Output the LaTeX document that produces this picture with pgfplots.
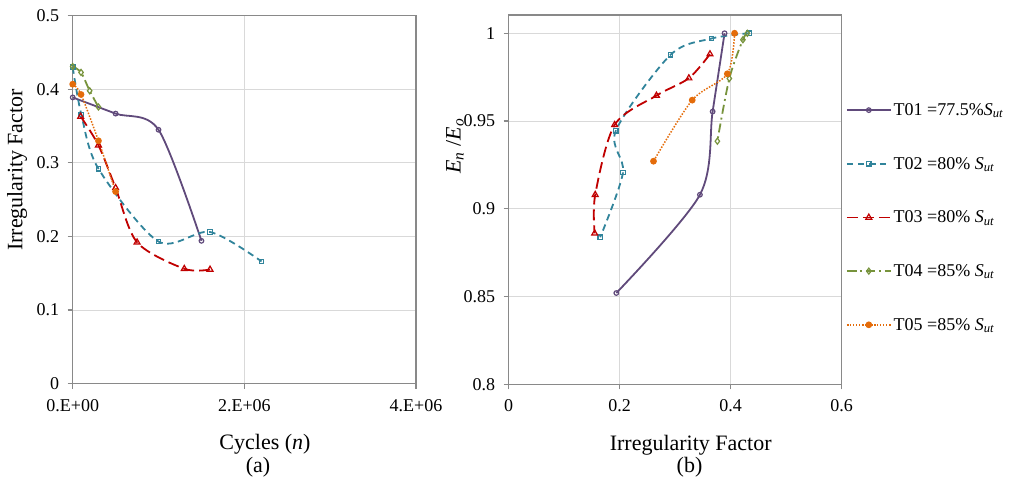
\documentclass[border=0pt]{standalone}
\usepackage{fontspec}
\setmainfont{Liberation Serif}
\usepackage{pgfplots}
\pgfplotsset{compat=1.18}
\definecolor{cA}{RGB}{96,74,123}
\definecolor{cB}{RGB}{49,132,155}
\definecolor{cC}{RGB}{192,0,0}
\definecolor{cD}{RGB}{119,147,60}
\definecolor{cE}{RGB}{228,108,10}
\definecolor{axgray}{RGB}{137,137,137}
\definecolor{gridgray}{RGB}{217,217,217}
\newcommand\tfont{\fontsize{18}{20}\selectfont}
\newcommand\lfont{\fontsize{22}{24}\selectfont}
\newcommand\Sut{\textit{S}\textsubscript{\textit{ut}}}
\begin{document}
\begin{tikzpicture}
\pgfplotsset{
  common/.style={
    scale only axis, clip=false,
    axis line style={draw=axgray, line width=1.3pt},
    tick pos=left, tick align=outside, major tick length=5pt,
    tick style={draw=axgray, line width=1.2pt},
    grid=major, major grid style={draw=gridgray, line width=0.8pt},
    ticklabel style={font=\tfont},
    xticklabel style={yshift=-7pt},
    yticklabel style={xshift=-5pt},
    scaled ticks=false,
  },
  s1/.style={cA, line width=1.8pt, smooth, mark=o, mark size=2.3pt, mark options={solid, fill=white, line width=1.2pt}},
  s2/.style={cB, line width=1.8pt, smooth, dash pattern=on 6.5pt off 4.5pt, mark=square, mark size=2.2pt, mark options={solid, fill=white, line width=1.2pt}},
  s3/.style={cC, line width=1.8pt, smooth, dash pattern=on 11pt off 5pt, mark=triangle, mark size=3.4pt, mark options={solid, fill=white, line width=1.2pt}},
  s4/.style={cD, line width=1.8pt, smooth, dash pattern=on 9pt off 4pt on 2pt off 4pt, mark=diamond, mark size=3pt, mark options={solid, fill=white, line width=1.2pt}},
  s5/.style={cE, line width=1.5pt, smooth, dash pattern=on 1.5pt off 1.5pt, mark=*, mark size=2.6pt, mark options={solid, fill=cE}},
}
\path[use as bounding box] (0pt,0pt) rectangle (1024pt,479pt);
% ---------------- (a)
\begin{axis}[common,
  at={(72.7pt,95.5pt)}, anchor=south west,
  width=343.3pt, height=367.7pt,
  xmin=0, xmax=4000000, ymin=0, ymax=0.5,
  xtick={0,2000000,4000000}, xticklabels={0.E+00,2.E+06,4.E+06},
  ytick={0,0.1,0.2,0.3,0.4,0.5}, yticklabels={0,0.1,0.2,0.3,0.4,0.5},
]
\addplot[s1] coordinates {(0,0.389) (500000,0.367) (1000000,0.345) (1500000,0.194)};
\addplot[s2] coordinates {(0,0.430) (100000,0.366) (300000,0.292) (1000000,0.193) (1600000,0.206) (2200000,0.166)};
\addplot[s3] coordinates {(93000,0.363) (300000,0.324) (500000,0.266) (750000,0.192) (1300000,0.156) (1600000,0.155)};
\addplot[s4] coordinates {(0,0.431) (97000,0.423) (198000,0.398) (300000,0.376)};
\addplot[s5] coordinates {(0,0.407) (97000,0.393) (300000,0.330) (500000,0.261)};
\end{axis}
% ---------------- (b)
\begin{axis}[common,
  at={(508.6pt,94.7pt)}, anchor=south west,
  width=333.1pt, height=369.3pt,
  xmin=0, xmax=0.6, ymin=0.8, ymax=1.0104,
  xtick={0,0.2,0.4,0.6}, xticklabels={0,0.2,0.4,0.6},
  ytick={0.8,0.85,0.9,0.95,1}, yticklabels={0.8,0.85,0.9,0.95,1},
  legend style={at={(axis description cs:1,0.772)}, anchor=north west, xshift=1pt,
    draw=none, fill=none, font=\tfont, row sep=36.2pt, legend cell align=left,
    /tikz/every even column/.append style={column sep=6pt}},
  legend image code/.code={\draw[mark repeat=2,mark phase=2] plot coordinates {(0pt,0pt)(22pt,0pt)(44pt,0pt)};},
]
\addplot[s1] coordinates {(0.389,1.0) (0.3675,0.9554) (0.3446,0.908) (0.194,0.852)};
\addlegendentry{T01 =77.5\%\Sut}
\addplot[s2] coordinates {(0.433,1.0) (0.3657,0.997) (0.2916,0.9877) (0.193,0.9444) (0.206,0.9206) (0.165,0.8838)};
\addlegendentry{T02 =80\% \Sut}
\addplot[s3] coordinates {(0.3627,0.9881) (0.3247,0.9744) (0.2663,0.9645) (0.191,0.9478) (0.156,0.908) (0.155,0.886)};
\addlegendentry{T03 =80\% \Sut}
\addplot[s4] coordinates {(0.430,1.0) (0.422,0.9963) (0.3976,0.9742) (0.376,0.9385)};
\addlegendentry{T04 =85\% \Sut}
\addplot[s5] coordinates {(0.407,1.0) (0.394,0.9769) (0.3307,0.9619) (0.261,0.9271)};
\addlegendentry{T05 =85\% \Sut}
\end{axis}
% labels
\node[font=\lfont, rotate=90] at (17pt,309pt) {Irregularity Factor};
\node[font=\lfont, rotate=90] at (455pt,333pt) {\textit{E}\textsubscript{\textit{n}} /\textit{E}\textsubscript{\textit{o}}};
\node[font=\lfont, anchor=base] at (265pt,30pt) {Cycles (\textit{n})};
\node[font=\lfont, anchor=base] at (258pt,7pt) {(a)};
\node[font=\lfont, anchor=base] at (690.7pt,29pt) {Irregularity Factor};
\node[font=\lfont, anchor=base] at (689.5pt,7pt) {(b)};
\end{tikzpicture}
\end{document}
